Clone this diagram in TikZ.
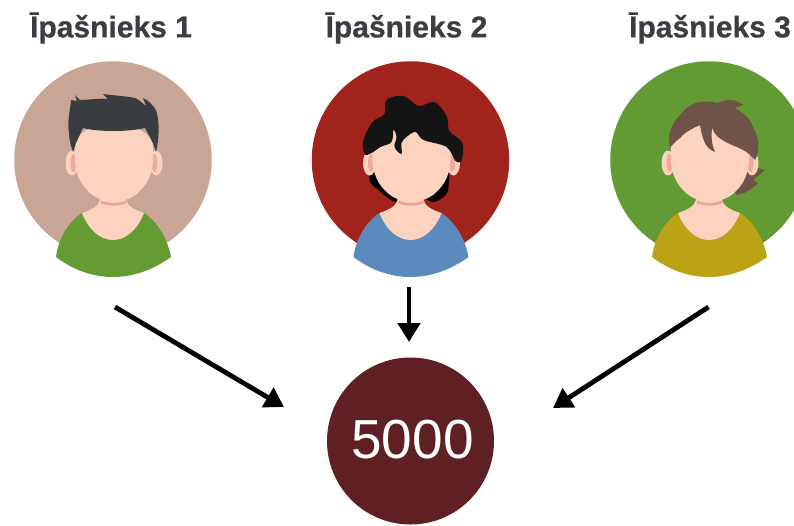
\documentclass[tikz,border=0pt]{standalone}
\usepackage{fontspec}
\setmainfont{Liberation Sans}
\newfontfamily\titlefont[FakeBold=0.6]{Liberation Sans Bold}
\usetikzlibrary{arrows.meta}
\definecolor{skin}{HTML}{FBD3BE}
\definecolor{earpink}{HTML}{EFA99B}
\definecolor{collar}{HTML}{EE9F98}
\definecolor{titlecol}{HTML}{3A3D42}
\definecolor{bgone}{HTML}{C8A595}
\definecolor{bgtwo}{HTML}{A0231C}
\definecolor{bgthree}{HTML}{629B34}
\definecolor{shirtone}{HTML}{659B33}
\definecolor{shirttwo}{HTML}{5B8ABF}
\definecolor{shirtthree}{HTML}{BCA215}
\definecolor{hairone}{HTML}{3A3D40}
\definecolor{hairthree}{HTML}{6F5349}
\definecolor{totalcol}{HTML}{5E2024}
\tikzset{
  ownertitle/.style={text=titlecol,inner sep=0pt,font=\fontsize{30}{32}\selectfont\titlefont},
  avatarbg/.style={circle,minimum size=197.5pt,inner sep=0pt,fill=#1},
  totalnode/.style={circle,minimum size=167pt,inner sep=0pt,fill=totalcol},
  totaltext/.style={text=white,inner sep=0pt,font=\fontsize{55}{60}\selectfont},
  flow/.style={line width=4.8pt,-{Triangle[length=19pt,width=22pt]}},
}
\newcommand{\avatarbody}[1]{%
  \fill[#1] (-31,53) .. controls (-45,62) and (-55,80) .. (-57,97)
     .. controls (-40,110) and (-20,117) .. (0,117)
     .. controls (20,117) and (40,110) .. (58,97)
     .. controls (55,80) and (45,62) .. (31,53) -- cycle;
  \fill[skin] (-14,30) -- (-13,40) .. controls (-14,46) and (-22,50) .. (-31,53)
     .. controls (-24,71) and (-12,80) .. (0,80)
     .. controls (12,80) and (24,71) .. (31,53)
     .. controls (22,50) and (14,46) .. (13,40) -- (14,30) -- cycle;
  \fill[skin] (-41,3) ellipse (6.5 and 12.5);
  \fill[skin] (43,3) ellipse (6.5 and 12.5);
  \fill[earpink] (-39.5,3) ellipse (3 and 9);
  \fill[earpink] (41.5,3) ellipse (3 and 9);
}
\newcommand{\avatarface}{%
  \fill[skin] (-38,-12) .. controls (-38,-26) and (-25,-35) .. (0,-35)
     .. controls (25,-35) and (40,-26) .. (40,-12)
     .. controls (41,8) and (38,20) .. (27,31)
     .. controls (14,45) and (-12,45) .. (-25,31)
     .. controls (-36,20) and (-39,8) .. (-38,-12) -- cycle;
  \draw[collar,line width=2.6pt] (-12,42) .. controls (-5,45) and (6,45) .. (13,42);
}
\begin{document}
\begin{tikzpicture}[x=1pt,y=-1pt]
\useasboundingbox[fill=white] (0,0) rectangle (794,525);
% circles
\node[avatarbg=bgone] (circleone) at (113,160) {};
\node[avatarbg=bgtwo] (circletwo) at (410.5,160) {};
\node[avatarbg=bgthree] (circlethree) at (709,160) {};
% owner 1
\begin{scope}[shift={(113,160)}]
  \avatarbody{shirtone}
  \avatarface
  \fill[hairone] (-42,-60) .. controls (-43,-48) and (-46,-38) .. (-44,-27)
    .. controls (-44,-20) and (-42,-14) .. (-40,-8) -- (-37,-17) -- (-30,-32)
    .. controls (-15,-28) and (15,-28) .. (32,-32) -- (40,-17) -- (43,-8)
    .. controls (46,-20) and (47,-38) .. (43,-50)
    .. controls (40,-55) and (35,-60) .. (30,-62) -- (33,-54)
    .. controls (28,-58) and (25,-61) .. (22,-62)
    .. controls (12,-64) and (5,-64) .. (-10,-66)
    -- (-5,-61) .. controls (-15,-62) and (-25,-60) .. (-33,-60) -- (-38,-65) -- (-36,-59) -- cycle;
\end{scope}
% owner 2
\begin{scope}[shift={(410.5,160)}]
  \fill[black] plot[smooth cycle,tension=0.6] coordinates {(-35,8) (-41,20) (-32,30) (-14,42) (0,30)};
  \fill[black] plot[smooth cycle,tension=0.6] coordinates {(36,12) (38,26) (35,35) (22,42) (10,30)};
  \avatarbody{shirttwo}
  \avatarface
  \fill[black!92!white] plot[smooth cycle,tension=0.6] coordinates {
    (-46,-6) (-47,-20) (-38,-38) (-26,-46) (-24,-60) (-7,-64) (8,-54) (24,-58)
    (36,-44) (39,-29) (52,-17) (51,0) (45,1) (36,-13) (13,-20) (5,-28) (-4,-23)
    (-9,-17) (-9,-6) (-16,-13) (-14,-23) (-17,-30) (-19,-18) (-30,-13) (-39,-7)};
\end{scope}
% owner 3
\begin{scope}[shift={(709,160)}]
  \fill[hairthree] (38,5) -- (44,7) -- (56,10) -- (44,20) -- (49,23)
    .. controls (42,30) and (35,34) .. (28,35) -- (24,30) -- cycle;
  \avatarbody{shirtthree}
  \avatarface
  \fill[hairthree] (-39,-12) .. controls (-42,-25) and (-38,-35) .. (-29,-45)
    .. controls (-22,-54) and (-15,-57) .. (-9,-58)
    .. controls (-2,-59) and (4,-58) .. (9,-57) .. controls (13,-59) and (17,-60) .. (21,-60)
    .. controls (26,-60) and (30,-58) .. (34,-55) -- (26,-52)
    .. controls (36,-46) and (42,-40) .. (44,-33) .. controls (48,-25) and (50,-18) .. (49,-13)
    .. controls (49,-7) and (48,-3) .. (46,0)
    .. controls (40,-7) and (35,-10) .. (28,-13) .. controls (20,-16) and (14,-19) .. (9,-23)
    .. controls (6,-26) and (4,-29) .. (3,-32) .. controls (2,-22) and (3,-14) .. (6,-8)
    .. controls (1,-10) and (-2,-13) .. (-4,-17) .. controls (-7,-23) and (-8,-29) .. (-9,-35)
    .. controls (-18,-31) and (-25,-27) .. (-29,-22) .. controls (-33,-19) and (-37,-15) .. (-39,-12) -- cycle;
\end{scope}
% titles
\node[ownertitle] (titleone) at (111,28) {Īpašnieks 1};
\node[ownertitle] (titletwo) at (406.5,28) {Īpašnieks 2};
\node[ownertitle] (titlethree) at (710,28) {Īpašnieks 3};
% total
\node[totalnode] (total) at (410.5,441) {};
\node[totaltext] (totalvalue) at (412.5,440) {5000};
% connectors
\coordinate (fromone) at (115,307);
\coordinate (toone) at (284,407);
\coordinate (fromtwo) at (409,287);
\coordinate (totwo) at (409,342);
\coordinate (fromthree) at (708.5,307);
\coordinate (tothree) at (553,408);
\draw[flow] (fromone) -- (toone);
\draw[flow] (fromtwo) -- (totwo);
\draw[flow] (fromthree) -- (tothree);
\end{tikzpicture}
\end{document}
